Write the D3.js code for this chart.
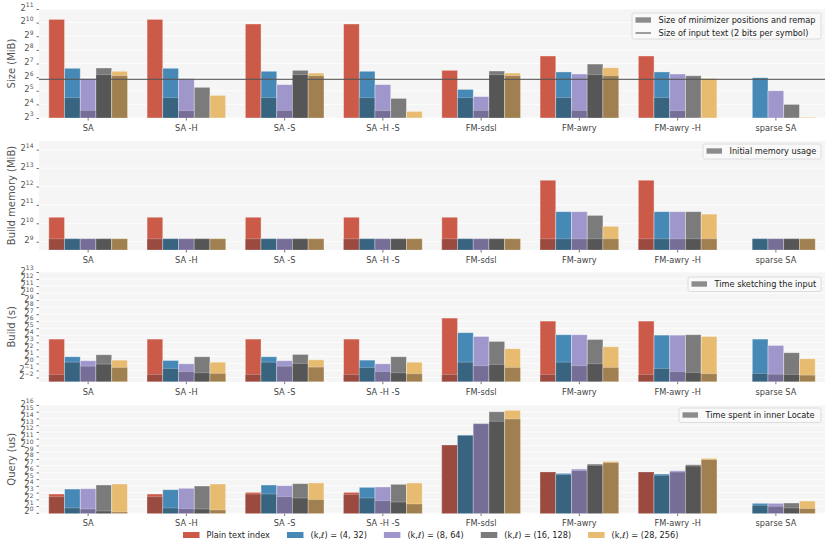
<!DOCTYPE html>
<html>
<head>
<meta charset="utf-8">
<script src="https://cdn.jsdelivr.net/npm/d3@7/dist/d3.min.js"></script>
<style>
body { margin: 0; background: #fff; }
text { font-family: "DejaVu Sans", sans-serif; }
</style>
</head>
<body>
<div id="chart"></div>
<script>
const width = 830, height = 549;

const groups = ["SA", "SA -H", "SA -S", "SA -H -S", "FM-sdsl", "FM-awry", "FM-awry -H", "sparse SA"];
const seriesNames = ["Plain text index", "(k,\u2113) = (4, 32)", "(k,\u2113) = (8, 64)", "(k,\u2113) = (16, 128)", "(k,\u2113) = (28, 256)"];
const colors = ["#cc5a49", "#4688b6", "#9f97cc", "#7b7b7b", "#e7bc71"];
const darkColors = ["#9b4a40", "#386480", "#776e98", "#565656", "#a08050"];

// index size (MiB), one row per series, one value per group
const sizeTotal = [
  [1209, 1209, 955, 955, 90.5, 187.4, 187.4, null],
  [100.4, 100.4, 86.2, 86.2, 34.3, 83.3, 83.3, 62.2],
  [59.3, 59.3, 43.7, 43.7, 23.8, 75.1, 75.1, 32],
  [101.8, 38.1, 90.5, 21.7, 87.4, 124.5, 68.6, 16],
  [86.2, 25.3, 78.8, 11.2, 78.8, 103.3, 60.1, 8.3]
];
// size of minimizer positions and remap
const sizeRemap = [
  [null, null, null, null, null, null, null, null],
  [22.5, 22.5, 22.5, 22.5, 22.5, 22.5, 22.5, null],
  [11.8, 11.6, 11.8, 11.6, 11.8, 11.8, 11.6, null],
  [72.5, null, 72.5, null, 72.5, 72.5, null, null],
  [68.6, null, 68.6, null, 68.6, 68.6, null, null]
];
const inputTextSize = 57.3;

// build memory (MiB)
const memTotal = [
  [1287, 1287, 1287, 1287, 1287, 5184, 5184, null],
  [572, 572, 572, 572, 572, 1585, 1585, 572],
  [572, 572, 572, 572, 572, 1585, 1585, 572],
  [572, 572, 572, 572, 572, 1380, 1585, 572],
  [572, 572, 572, 572, 572, 916, 1448, 572]
];
const memInitial = [
  [572, 572, 572, 572, 572, 572, 572, null],
  [572, 572, 572, 572, 572, 572, 572, 572],
  [572, 572, 572, 572, 572, 572, 572, 572],
  [572, 572, 572, 572, 572, 572, 572, 572],
  [572, 572, 572, 572, 572, 572, 572, 572]
];

// build time (s)
const buildTotal = [
  [11.0, 11.0, 11.0, 11.0, 87.4, 64.9, 64.9, null],
  [1.93, 1.34, 1.93, 1.385, 20.7, 16.9, 16.3, 11.0],
  [1.30, 0.966, 1.30, 0.966, 14.3, 16.9, 16.3, 5.9],
  [2.35, 1.93, 2.43, 1.93, 8.75, 10.6, 16.9, 2.87],
  [1.385, 1.13, 1.43, 1.13, 4.26, 5.17, 14.3, 1.59]
];
const buildSketch = [
  [0.337, 0.337, 0.337, 0.337, 0.337, 0.337, 0.337, null],
  [1.13, 0.607, 1.13, 0.67, 1.13, 1.13, 0.607, 0.371],
  [0.763, 0.45, 0.763, 0.45, 0.796, 0.796, 0.45, 0.346],
  [0.933, 0.397, 0.99, 0.397, 0.901, 0.966, 0.409, 0.337],
  [0.669, 0.371, 0.693, 0.36, 0.669, 0.669, 0.361, 0.314]
];

// query time (us)
const queryTotal = [
  [6.92, 6.92, 8.22, 8.22, 1068, 66.7, 66.7, null],
  [11.55, 10.8, 17.5, 13.8, 2896, 58.1, 54.2, 2.66],
  [11.96, 12.5, 16.3, 14.3, 9540, 90.5, 76.1, 2.66],
  [17.5, 15.8, 20.1, 18.8, 32768, 151, 141, 2.75],
  [19.4, 19.4, 21.6, 21.6, 37900, 199.5, 272.5, 3.36]
];
const queryLocate = [
  [5.24, 5.24, 6.92, 6.68, 1068, 66.7, 66.7, null],
  [1.65, 1.65, 6.92, 4.59, 2896, 50.6, 47.5, 2.17],
  [1.48, 1.54, 5.24, 3.48, 9540, 76.6, 66.7, 1.96],
  [1.21, 1.48, 4.59, 3.03, 12245, 132.5, 123.6, 1.65],
  [1.09, 1.34, 3.86, 2.48, 15500, 173.7, 235.5, 1.54]
];

const panels = [
  { label: "Size (MiB)", totals: sizeTotal, parts: sizeRemap, top: 9, bottom: 118,
    lo: 3, hi: 11, exps: d3.range(3, 12), partLabel: "Size of minimizer positions and remap",
    legend: [632, 13, 189, 26], refLine: inputTextSize, refLabel: "Size of input text (2 bits per symbol)" },
  { label: "Build memory (MiB)", totals: memTotal, parts: memInitial, top: 141, bottom: 250,
    lo: 8.55, hi: 14.47, exps: d3.range(9, 15), partLabel: "Initial memory usage",
    legend: [703, 144, 118, 15] },
  { label: "Build (s)", totals: buildTotal, parts: buildSketch, top: 272, bottom: 381.7,
    lo: -2.6, hi: 13, exps: d3.range(-2, 14), partLabel: "Time sketching the input",
    legend: [688, 277, 133, 14.5] },
  { label: "Query (us)", totals: queryTotal, parts: queryLocate, top: 405, bottom: 513.5,
    lo: -0.1, hi: 16, exps: d3.range(0, 17), partLabel: "Time spent in inner Locate",
    legend: [679, 408, 142, 14.5] }
];

const svg = d3.select("#chart").append("svg")
  .attr("width", width)
  .attr("height", height);

const x0 = d3.scaleBand().domain(groups).range([39, 825]).paddingInner(0.2).paddingOuter(0.1);
const x1 = d3.scaleBand().domain(d3.range(seriesNames.length)).range([0, x0.bandwidth()]);

function supLabel(sel, e) {
  sel.text(null);
  sel.append("tspan").attr("dy", "0.12em").text("2");
  sel.append("tspan").attr("dy", "-0.5em").attr("font-size", "0.72em")
    .text(String(e).replace("-", "\u2212"));
}

panels.forEach(function (p) {
  const g = svg.append("g");
  const y = d3.scaleLog().base(2)
    .domain([Math.pow(2, p.lo), Math.pow(2, p.hi)])
    .range([p.bottom, p.top]);

  g.append("rect")
    .attr("x", 39).attr("y", p.top)
    .attr("width", 825 - 39).attr("height", p.bottom - p.top)
    .attr("fill", "#f5f5f5");

  // white grid
  g.selectAll(".grid").data(p.exps).enter().append("line")
    .attr("x1", 39).attr("x2", 825)
    .attr("y1", function (e) { return y(Math.pow(2, e)); })
    .attr("y2", function (e) { return y(Math.pow(2, e)); })
    .attr("stroke", "#ffffff").attr("stroke-width", 0.8);

  // bars: full value, then the darker part on top of it
  p.totals.forEach(function (row, s) {
    row.forEach(function (v, i) {
      if (v == null) return;
      const bx = x0(groups[i]) + x1(s);
      g.append("rect")
        .attr("x", bx).attr("width", x1.bandwidth())
        .attr("y", y(v)).attr("height", p.bottom - y(v))
        .attr("fill", colors[s])
        .attr("stroke", "rgba(255,255,255,0.45)").attr("stroke-width", 0.8);
      const d = p.parts[s][i];
      if (d == null) return;
      const yd = Math.max(y(d), p.top);
      g.append("rect")
        .attr("x", bx).attr("width", x1.bandwidth())
        .attr("y", yd).attr("height", p.bottom - yd)
        .attr("fill", darkColors[s])
        .attr("stroke", "rgba(255,255,255,0.3)").attr("stroke-width", 0.8);
    });
  });

  if (p.refLine) {
    g.append("line")
      .attr("x1", 39).attr("x2", 825)
      .attr("y1", y(p.refLine)).attr("y2", y(p.refLine))
      .attr("stroke", "#555").attr("stroke-opacity", 0.85).attr("stroke-width", 1.3);
  }

  // y axis
  const yAxis = g.append("g").attr("transform", "translate(39,0)")
    .call(d3.axisLeft(y).tickValues(p.exps.map(function (e) { return Math.pow(2, e); }))
      .tickSize(2.5).tickPadding(3));
  yAxis.select(".domain").remove();
  yAxis.selectAll(".tick line").attr("stroke", "#777");
  yAxis.selectAll(".tick text")
    .attr("font-size", 8.4).attr("fill", "#555")
    .each(function (v) { supLabel(d3.select(this), Math.round(Math.log2(v))); });

  // x axis
  const xAxis = g.append("g").attr("transform", "translate(0," + p.bottom + ")")
    .call(d3.axisBottom(x0).tickSize(2.5).tickPadding(4.5));
  xAxis.select(".domain").remove();
  xAxis.selectAll(".tick line").attr("stroke", "#777");
  xAxis.selectAll(".tick text").attr("font-size", 8.2).attr("fill", "#444");

  g.append("text")
    .attr("transform", "translate(11.5," + ((p.top + p.bottom) / 2) + ") rotate(-90)")
    .attr("text-anchor", "middle")
    .attr("dy", "0.35em")
    .attr("font-size", 10).attr("fill", "#555")
    .text(p.label);

  // panel legend
  const lg = p.legend;
  g.append("rect")
    .attr("x", lg[0]).attr("y", lg[1]).attr("width", lg[2]).attr("height", lg[3])
    .attr("rx", 2).attr("fill", "#fafafa").attr("fill-opacity", 0.9)
    .attr("stroke", "#d6d6d6").attr("stroke-width", 0.8);
  const items = [{ kind: "box", text: p.partLabel }];
  if (p.refLabel) items.push({ kind: "line", text: p.refLabel });
  items.forEach(function (it, k) {
    const cy = lg[1] + 7 + k * 13;
    if (it.kind === "box") {
      g.append("rect").attr("x", lg[0] + 3.5).attr("y", cy - 2.7)
        .attr("width", 15.5).attr("height", 5.4).attr("fill", "#8c8c8c");
    } else {
      g.append("line").attr("x1", lg[0] + 3.5).attr("x2", lg[0] + 19)
        .attr("y1", cy).attr("y2", cy)
        .attr("stroke", "#555").attr("stroke-opacity", 0.85).attr("stroke-width", 1.3);
    }
    g.append("text").attr("x", lg[0] + 26.5).attr("y", cy + 3)
      .attr("font-size", 8.2).attr("fill", "#222").text(it.text);
  });
});

// bottom legend
const legend = svg.append("g");
let lx = 183;
seriesNames.forEach(function (name, s) {
  legend.append("rect").attr("x", lx).attr("y", 532).attr("width", 16.5).attr("height", 6)
    .attr("fill", colors[s]);
  const t = legend.append("text").attr("x", lx + 23.5).attr("y", 538)
    .attr("font-size", 8.2).attr("fill", "#222").text(name);
  lx += 23.5 + t.node().getComputedTextLength() + 17;
});
</script>
</body>
</html>
